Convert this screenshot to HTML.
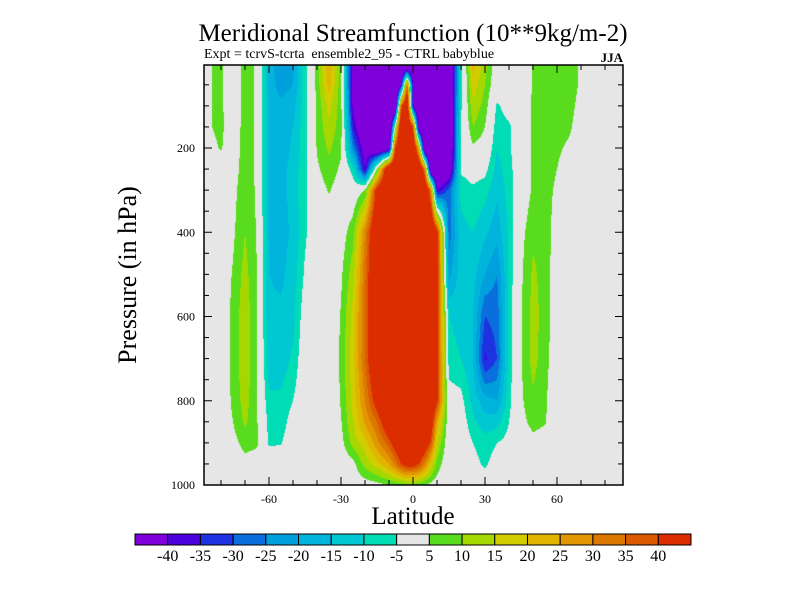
<!DOCTYPE html>
<html><head><meta charset="utf-8">
<style>
html,body{margin:0;padding:0;background:#fff;}
#wrap{position:relative;width:800px;height:600px;overflow:hidden;font-family:"Liberation Serif",serif;}
#plot{position:absolute;left:204px;top:65px;}
svg{position:absolute;left:0;top:0;}
</style></head>
<body>
<div id="wrap">
<canvas id="plot" width="419" height="420"></canvas>
<svg id="ov" width="800" height="600">
<text x="413" y="41" text-anchor="middle" font-size="25">Meridional Streamfunction (10**9kg/m-2)</text>
<text x="204" y="58" font-size="14">Expt = tcrvS-tcrta&#160; ensemble2_95 - CTRL babyblue</text>
<text x="623" y="62" text-anchor="end" font-size="13" font-weight="bold">JJA</text>
<text x="413" y="524" text-anchor="middle" font-size="25">Latitude</text>
<text transform="translate(136,275) rotate(-90)" text-anchor="middle" font-size="26">Pressure (in hPa)</text>
<g id="axes"></g>
<g id="cbar"></g>
</svg>
</div>
<script>
const lats=[-85,-80,-75,-70,-65,-60,-55,-50,-45,-40,-35,-30,-25,-20,-15,-10,-7.5,-5,-2.5,0,2.5,5,7.5,10,15,20,25,30,35,40,45,50,55,60,65,70,75,80,85];
const pressures=[5,50,100,150,200,250,300,400,500,600,700,800,850,900,950,1000];
const psi=[
[4.5,4.5,4.5,4.5,3,1,0,0,0,0,0,0,0,0,0,0],
[6.5,6.5,6.5,6.5,5.5,2,1,1,1,1,1,1,1,0,0,0],
[-1,-1,-1,0,1,2,3,4,5.5,6.5,6.5,6,5,3,1,0],
[8,8,8,8,8,8,9,10,12,13.5,14,12.5,11,7,3,1],
[4,4,4,4,4,4,4,4.5,5,5,5,5,5.5,6,2,0],
[-18,-18,-17,-17,-17,-16,-16,-16,-15,-14,-13,-9,-7,-6,0,0],
[-23,-22,-19,-18,-18,-17,-17,-17,-16,-14,-13,-9,-8,-5.5,0,0],
[-21,-20,-17,-15,-14,-13,-13,-14,-13,-12,-9,-5,-2,0,0,0],
[-7,-7,-7,-7,-7,-6.5,-6,-6,-4,-1,0,0,0,0,0,0],
[8,7,6,6,5.5,4,2,0,0,0,0,0,0,0,0,0],
[24,22,17,14,11,8,5.5,0,0,0,0,0,0,0,0,0],
[7,7,7,7,6,4,2,2,4,5.5,6,5.5,4.5,3,1,0],
[-45,-45,-42,-35,-25,-8,0,8,13,17,18,17,15,12,3,1],
[-60,-60,-60,-55,-45,-40,5,30,34,35,35,30,26,18,12,2],
[-60,-60,-60,-60,-55,5,45,55,55,55,55,45,35,28,18,3],
[-60,-60,-60,-60,-50,60,60,60,60,60,60,60,50,38,25,5],
[-60,-60,-60,0,40,60,60,60,60,60,60,60,58,45,32,6],
[-60,-40,35,60,60,60,60,60,60,60,60,60,60,52,40,7],
[-60,35,60,60,60,60,60,60,60,60,60,60,60,58,45,8],
[-60,-40,-40,40,60,60,60,60,60,60,60,60,60,60,45,8],
[-60,-60,-60,-50,20,60,60,60,60,60,60,60,60,55,40,7],
[-60,-60,-60,-60,-60,30,60,60,60,60,60,60,58,50,30,5],
[-60,-60,-60,-60,-60,-60,30,60,60,60,60,55,48,38,18,3],
[-60,-60,-60,-60,-60,-60,-40,45,45,45,45,42,25,15,8,2],
[-55,-55,-55,-55,-55,-50,-28,-28,-22,-10,-8,-2,0,0,0,0],
[-8,-8,-6,-5,-4,-4,-8,-12,-12,-12,-10,-3,-1,0,0,0],
[22,18,14,10,4,-2,-6,-10,-13,-15,-15,-12,-9,-5,-3,0],
[12,10,8,5,2,-3,-8,-14,-20,-30,-36,-18,-13,-8,-6,-1],
[0,0,-6,-8,-10,-12,-14,-18,-25,-28,-30,-20,-12,-5,-2,0],
[0,0,-2,-6,-6,-7,-8,-9,-9,-8,-8,-7,-5,-3,0,0],
[0,0,0,0,0,0,0,3,4,4.5,4.5,4,3,0,0,0],
[5.5,5.5,6,6,6,6,6,9,11,12,12,9,7,3,0,0],
[8,8,8,8,8,7.5,7,8,8,8,7,6,5.5,2,0,0],
[8,8,8,7,6,5,4,2,1,1,1,0,0,0,0,0],
[8,8,7,6,4,2,1,0,0,0,0,0,0,0,0,0],
[4,4,3,2,1,0,0,0,0,0,0,0,0,0,0,0],
[0,0,0,0,0,0,0,0,0,0,0,0,0,0,0,0],
[0,0,0,0,0,0,0,0,0,0,0,0,0,0,0,0],
[0,0,0,0,0,0,0,0,0,0,0,0,0,0,0,0]
];
const levels=[-40,-35,-30,-25,-20,-15,-10,-5,5,10,15,20,25,30,35,40];
const levelLabels=["-40","-35","-30","-25","-20","-15","-10","-5","5","10","15","20","25","30","35","40"];
const fillColors=["#8000DC","#4B00DC","#1E32E1","#0A6EDC","#00A0DC","#00B4DC","#00C8D2","#00DCB4","#E6E6E6","#5ADC1E","#A5D700","#D2CD00","#E1B400","#E19600","#DC7800","#DC5A00","#DC2D00"];
const xTicks=[-60,-30,0,30,60];
const yTicks=[200,400,600,800,1000];

function xOf(lat){return 413+2.4*lat;}
function yOf(p){return 485-(1000-p)*0.42125;}
function latOf(x){return (x-413)/2.4;}
function pOf(y){return 1000-(485-y)/0.42125;}
function seg(arr,v){
  if(v<=arr[0])return[0,0];
  if(v>=arr[arr.length-1])return[arr.length-2,1];
  for(let i=0;i<arr.length-1;i++){if(v<=arr[i+1])return[i,(v-arr[i])/(arr[i+1]-arr[i])];}
}
function val(lat,p){
  const [i,t]=seg(lats,lat),[j,u]=seg(pressures,p);
  const a=psi[i][j],b=psi[i+1][j],c=psi[i][j+1],d=psi[i+1][j+1];
  return (1-t)*(1-u)*a+t*(1-u)*b+(1-t)*u*c+t*u*d;
}
function bin(v){let k=0;while(k<levels.length&&v>=levels[k])k++;return k;}
function hex(h){return[parseInt(h.substr(1,2),16),parseInt(h.substr(3,2),16),parseInt(h.substr(5,2),16)];}
const rgb=fillColors.map(hex);
const cv=document.getElementById('plot'),ctx=cv.getContext('2d');
const img=ctx.createImageData(cv.width,cv.height);
for(let py=0;py<cv.height;py++){
  const p=pOf(65+py+0.5);
  for(let px=0;px<cv.width;px++){
    const c=rgb[bin(val(latOf(204+px+0.5),p))];
    const k=(py*cv.width+px)*4;
    img.data[k]=c[0];img.data[k+1]=c[1];img.data[k+2]=c[2];img.data[k+3]=255;
  }
}
ctx.putImageData(img,0,0);

const NS="http://www.w3.org/2000/svg";
const axes=document.getElementById('axes');
function mk(tag,attrs,parent){const e=document.createElementNS(NS,tag);for(const k in attrs)e.setAttribute(k,attrs[k]);parent.appendChild(e);return e;}
const frame=mk('rect',{x:204,y:65,width:419,height:420,fill:'none',stroke:'#000','stroke-width':1.5},axes);


for(let lat=-80;lat<=80;lat+=10){
  const x=xOf(lat),L=(lat%30===0)?8:5;
  const t1=mk('line',{x1:x,y1:485,x2:x,y2:485-L,stroke:'#000','stroke-width':1},axes);
  
  
  const t2=mk('line',{x1:x,y1:65,x2:x,y2:65+L,stroke:'#000','stroke-width':1},axes);
  
  
}
for(let p=50;p<1000;p+=50){
  const y=yOf(p),L=(p%200===0)?8:5;
  const t1=mk('line',{x1:204,y1:y,x2:204+L,y2:y,stroke:'#000','stroke-width':1},axes);
  
  
  const t2=mk('line',{x1:623,y1:y,x2:623-L,y2:y,stroke:'#000','stroke-width':1},axes);
  
  
}
xTicks.forEach(v=>{
  const t=mk('text',{x:xOf(v),y:503,'text-anchor':'middle','font-size':12},axes);
  t.textContent=String(v);
  
  
});
yTicks.forEach(v=>{
  const t=mk('text',{x:195,y:yOf(v)+4,'text-anchor':'end','font-size':12},axes);
  t.textContent=String(v);
  
  
});
const cb=document.getElementById('cbar');
const bw=556/fillColors.length;
fillColors.forEach((c,i)=>{
  const r=mk('rect',{x:135+i*bw,y:534,width:bw,height:11,fill:c,stroke:'#000','stroke-width':1},cb);
  
  
});
levelLabels.forEach((s,i)=>{
  const t=mk('text',{x:135+(i+1)*bw,y:561,'text-anchor':'middle','font-size':16},cb);
  t.textContent=s;
  
  
});
</script>
</body></html>
